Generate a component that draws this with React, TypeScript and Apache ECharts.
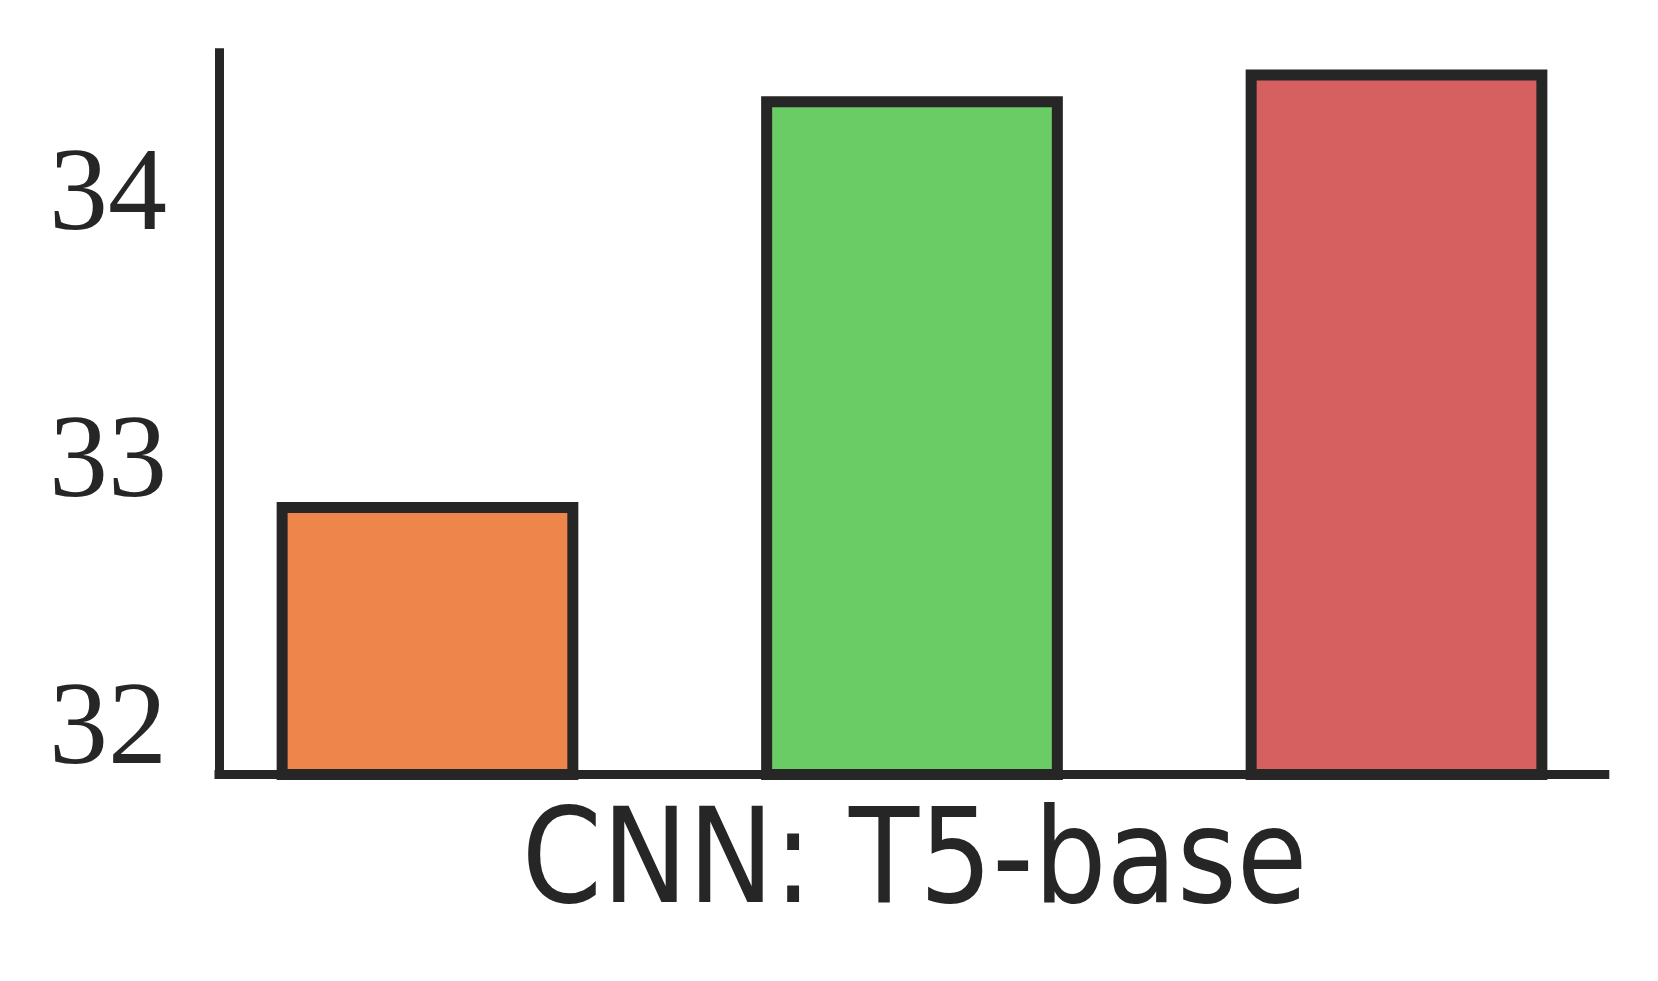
import React, { useEffect, useRef } from "react";
import * as echarts from "echarts";

// ---- data ----
const categories = ["Model A", "Model B", "Model C"];
const positions = [0, 1, 2];
const values = [32.81, 34.33, 34.43];
const colors = ["#EE854A", "#6ACC64", "#D65F5F"];
const yTicks = [32, 33, 34];
const xLabel = "CNN: T5-base";

const W = 1658;
const H = 981;
const INK = "#262626";
const Y_MIN = 31.81;
const Y_MAX = 34.53;
const BAR_HALF = 0.3;

export default function App() {
  const ref = useRef<HTMLDivElement>(null);

  useEffect(() => {
    if (!ref.current) return;
    const chart = echarts.init(ref.current, undefined, { renderer: "svg", width: W, height: H });
    const gridLeft = 219;
    const gridRight = W - 1604.8;
    const gridTop = 48.3;
    const gridBottom = H - 774.5;

    chart.setOption({
      animation: false,
      backgroundColor: "#ffffff",
      grid: { left: gridLeft, right: gridRight, top: gridTop, bottom: gridBottom, containLabel: false },
      xAxis: {
        type: "value",
        min: -0.4303,
        max: 2.4299,
        axisLine: { show: true, onZero: false, lineStyle: { color: INK, width: 9, cap: "square" } },
        axisTick: { show: false },
        axisLabel: { show: false },
        splitLine: { show: false },
      },
      yAxis: {
        type: "value",
        min: Y_MIN,
        max: Y_MAX,
        axisLine: { show: true, onZero: false, lineStyle: { color: INK, width: 9, cap: "butt" } },
        axisTick: { show: false },
        splitLine: { show: false },
        axisLabel: {
          show: true,
          customValues: yTicks,
          margin: 52,
          color: INK,
          fontFamily: "Liberation Serif",
          fontSize: 118,
          formatter: (v: number) => String(v),
        },
      },
      series: [
        {
          type: "custom",
          clip: false,
          z: 1,
          encode: { x: 0, y: 1 },
          data: positions.map((p, i) => ({ name: categories[i], value: [p, values[i]] })),
          renderItem: (params: any, api: any) => {
            const x = api.value(0);
            const y = api.value(1);
            const tl = api.coord([x - BAR_HALF, y]);
            const br = api.coord([x + BAR_HALF, Y_MIN]);
            return {
              type: "rect",
              shape: { x: tl[0], y: tl[1], width: br[0] - tl[0], height: br[1] - tl[1] },
              style: { fill: colors[params.dataIndex], stroke: INK, lineWidth: 11, lineJoin: "miter" },
            };
          },
        },
      ],
      graphic: [
        {
          type: "text",
          x: 914.6,
          y: 856,
          scaleX: 0.87,
          scaleY: 1,
          style: {
            text: xLabel,
            fontFamily: "DejaVu Sans",
            fontSize: 132,
            fill: INK,
            align: "center",
            verticalAlign: "middle",
          },
        },
      ],
    });
    return () => chart.dispose();
  }, []);

  return (
    <div
      ref={ref}
      style={{ position: "absolute", left: 0, top: 0, width: W, height: H, background: "#fff" }}
    />
  );
}
